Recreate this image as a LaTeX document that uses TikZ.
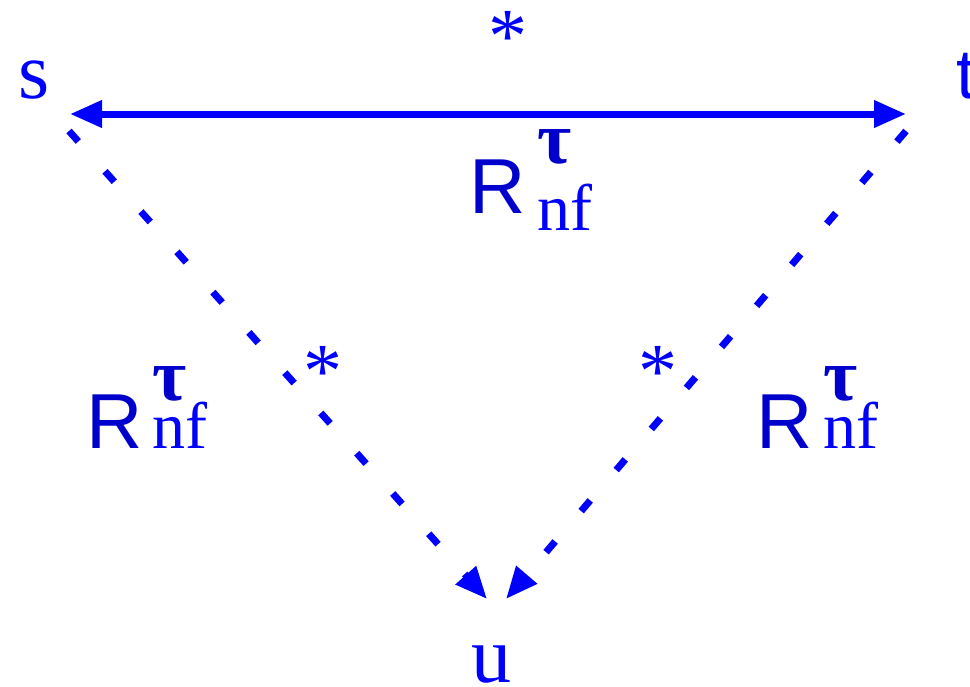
\documentclass[tikz,border=0pt]{standalone}
\usepackage{fontspec}
\setmainfont{Liberation Serif}
\setsansfont{Liberation Sans}
\usetikzlibrary{arrows.meta}
\definecolor{lblue}{RGB}{0,0,255}
\definecolor{dblue}{RGB}{0,0,204}
\tikzset{
  lbl/.style={inner sep=0pt, outer sep=0pt, anchor=base, text=lblue},
  vert/.style={lbl, font=\fontsize{80}{80}\selectfont},
  star/.style={lbl, font=\fontsize{78}{78}\selectfont},
  rlbl/.style={inner sep=0pt, outer sep=0pt, anchor=base west},
  tip/.style={-{Triangle[length=32pt,width=26pt]}},
  solidarrow/.style={{Triangle[length=32pt,width=26pt]}-{Triangle[length=32pt,width=26pt]}, line width=7pt, draw=lblue},
  dotarrow/.style={tip, line width=7pt, draw=lblue, dash pattern=on 14pt off 40pt, line cap=butt}
}
\newcommand{\RnfLabel}[3]{%
  {\fontsize{78}{78}\selectfont\sffamily\color{dblue}R}\hspace{#1}%
  \rlap{\raisebox{#2}{\fontsize{74}{74}\selectfont\bfseries\color{dblue}τ}}%
  \raisebox{#3}{\fontsize{66}{66}\selectfont\color{lblue}nf}}
\begin{document}
\begin{tikzpicture}[x=1pt,y=-1pt]
\useasboundingbox[fill=white] (0,0) rectangle (970,686);
% vertices
\node[vert] (s) at (34.5,98) {s};
\node[lbl, anchor=base west, font=\fontsize{70}{70}\selectfont\sffamily] (t) at (956,98) {t};
\node[vert] (u) at (491,682) {u};
% connector end points
\coordinate (sA) at (70,114);
\coordinate (tA) at (906,114);
\coordinate (sB) at (69,131);
\coordinate (tB) at (906,131);
\coordinate (uL) at (487,599);
\coordinate (uR) at (506,599);
% connectors
\draw[solidarrow] (sA) -- (tA);
\draw[dotarrow] (sB) -- (uL);
\draw[dotarrow] (tB) -- (uR);
% stars
\node[star] (st1) at (508,62) {*};
\node[star] (st2) at (323,397) {*};
\node[star] (st3) at (658,397) {*};
% labels
\node[rlbl] (r1) at (469,213) {\RnfLabel{11.7pt}{50pt}{-17pt}};
\node[rlbl] (r2) at (86,448) {\RnfLabel{9.7pt}{48pt}{0pt}};
\node[rlbl] (r3) at (756,448) {\RnfLabel{10.7pt}{48pt}{0pt}};
\end{tikzpicture}
\end{document}
